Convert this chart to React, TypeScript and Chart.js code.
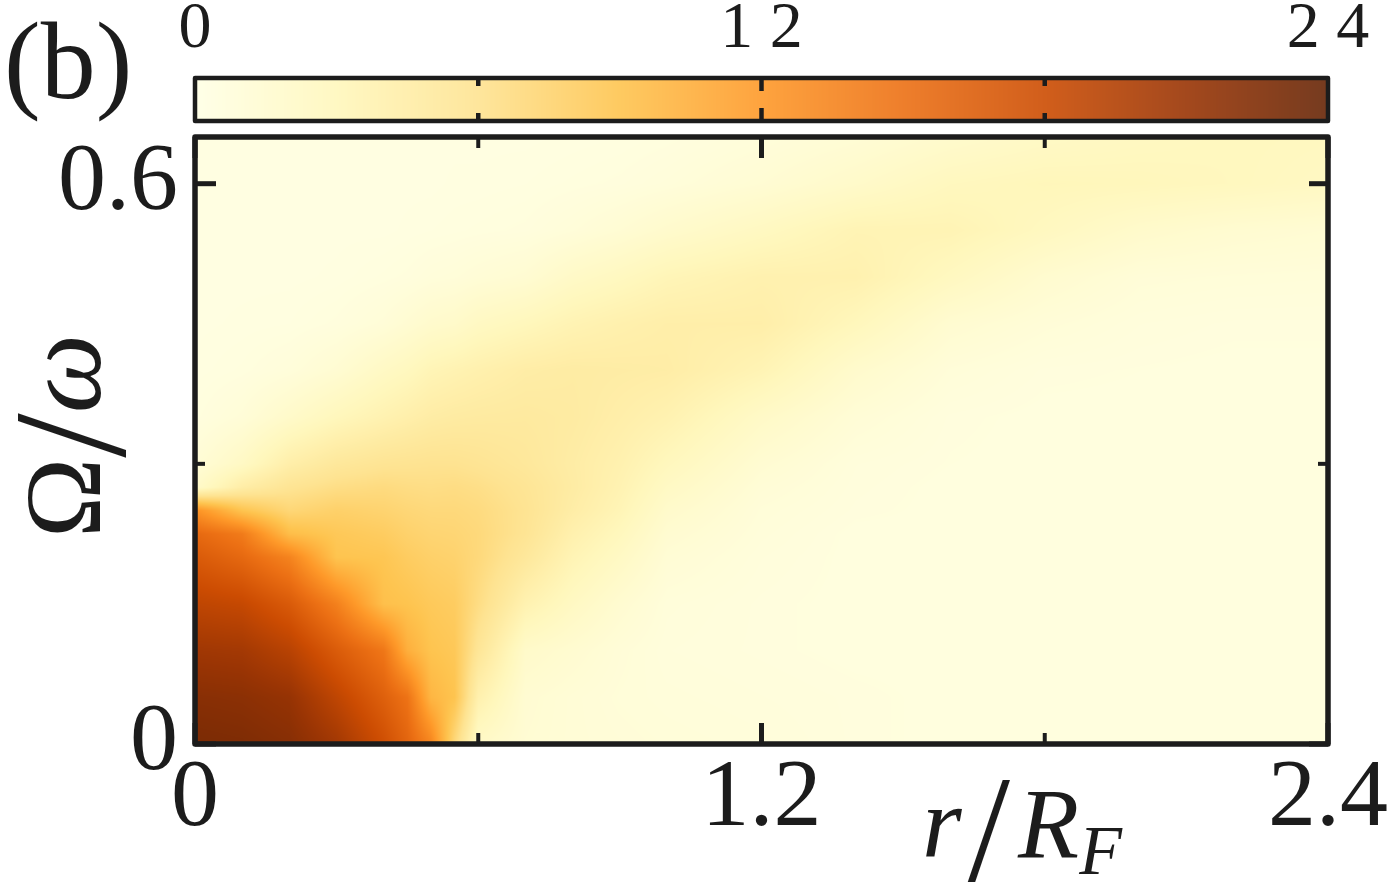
import React, { useEffect, useRef } from 'react';
import { Chart, registerables } from 'chart.js';

Chart.register(...registerables);

// ---- grid nodes (r/R_F along x, Omega/omega along y) ----
const rValues = [0, 0.1, 0.2, 0.3, 0.4, 0.45, 0.5, 0.55, 0.6, 0.7, 0.8, 0.9, 1.0, 1.2, 1.4, 1.6, 1.8, 2.0, 2.2, 2.4];
const omegaValues = [0, 0.05, 0.1, 0.15, 0.2, 0.225, 0.25, 0.275, 0.3, 0.35, 0.4, 0.45, 0.5, 0.55, 0.6, 0.65];

// ---- intensity, one row per Omega/omega value ----
const row_0000 = [22.8, 22.6, 22.1, 20.5, 17.8, 16.0, 13.5, 7.0, 2.2, 1.3, 1.1, 1.0, 0.9, 0.8, 0.6, 0.5, 0.5, 0.5, 0.5, 0.5];
const row_0050 = [22.0, 21.8, 21.2, 18.8, 16.3, 14.8, 10.0, 9.0, 4.0, 1.4, 1.1, 0.9, 0.8, 0.7, 0.6, 0.5, 0.5, 0.5, 0.5, 0.5];
const row_0100 = [20.6, 20.4, 19.2, 16.7, 14.5, 10.5, 9.0, 8.6, 5.6, 2.0, 1.5, 1.0, 0.7, 0.6, 0.5, 0.5, 0.5, 0.5, 0.5, 0.5];
const row_0150 = [18.8, 18.4, 16.8, 13.8, 9.3, 9.0, 8.5, 8.2, 6.6, 3.8, 2.5, 1.5, 0.8, 0.6, 0.5, 0.5, 0.5, 0.5, 0.5, 0.5];
const row_0200 = [16.8, 15.6, 13.6, 9.0, 8.8, 8.2, 7.8, 7.6, 7.0, 5.3, 3.5, 2.4, 1.2, 0.7, 0.5, 0.5, 0.5, 0.5, 0.5, 0.5];
const row_0225 = [15.6, 14.2, 9.5, 8.6, 8.2, 7.7, 7.4, 7.3, 7.0, 5.8, 4.0, 2.9, 1.5, 0.8, 0.5, 0.5, 0.5, 0.5, 0.5, 0.5];
const row_0250 = [12.5, 9.0, 7.2, 7.8, 7.5, 7.2, 7.0, 7.0, 6.8, 5.9, 4.5, 3.4, 1.9, 0.9, 0.6, 0.5, 0.5, 0.5, 0.5, 0.5];
const row_0275 = [2.0, 4.5, 5.8, 6.5, 6.8, 6.6, 6.5, 6.6, 6.4, 5.7, 4.7, 3.7, 2.4, 1.1, 0.65, 0.5, 0.5, 0.5, 0.5, 0.5];
const row_0300 = [1.1, 2.4, 4.3, 5.3, 5.8, 5.9, 6.0, 6.0, 5.8, 5.3, 4.6, 3.9, 2.9, 1.4, 0.7, 0.55, 0.5, 0.5, 0.5, 0.5];
const row_0350 = [0.5, 1.0, 2.0, 3.0, 3.8, 4.2, 4.6, 4.8, 4.9, 5.0, 4.8, 4.3, 3.8, 2.2, 1.1, 0.6, 0.5, 0.5, 0.5, 0.5];
const row_0400 = [0.35, 0.5, 0.8, 1.4, 2.4, 2.8, 3.4, 3.7, 4.0, 4.5, 4.7, 4.6, 4.5, 3.5, 1.8, 0.9, 0.6, 0.55, 0.5, 0.5];
const row_0450 = [0.3, 0.35, 0.4, 0.6, 1.0, 1.4, 1.8, 2.0, 2.5, 3.0, 3.6, 4.0, 4.3, 4.3, 3.0, 1.5, 1.0, 0.7, 0.6, 0.6];
const row_0500 = [0.3, 0.3, 0.3, 0.35, 0.5, 0.6, 0.8, 0.9, 1.1, 1.4, 2.2, 2.7, 3.3, 3.9, 3.9, 2.7, 1.6, 1.0, 0.9, 0.85];
const row_0550 = [0.3, 0.3, 0.3, 0.3, 0.3, 0.35, 0.4, 0.45, 0.5, 0.6, 0.9, 1.3, 1.8, 2.6, 3.5, 3.5, 2.7, 1.9, 1.5, 1.3];
const row_0600 = [0.3, 0.3, 0.3, 0.3, 0.3, 0.3, 0.3, 0.35, 0.35, 0.4, 0.5, 0.6, 0.8, 1.3, 2.0, 2.8, 3.1, 3.0, 2.8, 2.5];
const row_0650 = [0.3, 0.3, 0.3, 0.3, 0.3, 0.3, 0.3, 0.3, 0.3, 0.3, 0.35, 0.4, 0.5, 0.8, 1.2, 1.8, 2.3, 2.6, 2.8, 2.7];

const intensityRows = [
  row_0000, row_0050, row_0100, row_0150, row_0200, row_0225, row_0250, row_0275,
  row_0300, row_0350, row_0400, row_0450, row_0500, row_0550, row_0600, row_0650,
];

// ---- ticks ----
const xTicks = [0, 1.2, 2.4];
const xTickLabels = ['0', '1.2', '2.4'];
const xMinorTicks = [0.6, 1.8];
const yTicks = [0, 0.6];
const yTickLabels = ['0', '0.6'];
const yMinorTicks = [0.3];
const cbTicks = [0, 12, 24];
const cbTickLabels = ['0', '1 2', '2 4'];
const cbInnerMajor = [12];
const cbInnerMinor = [6, 18];

const X_MIN = 0, X_MAX = 2.4, Y_MIN = 0, Y_MAX = 0.65, V_MIN = 0, V_MAX = 24;

const colormapHex = ['#ffffe5', '#fff7bc', '#fee391', '#fec44f', '#fe9929', '#ec7014', '#cc4c02', '#993404', '#662506'];

const INK = '#1c1c1c';
const SERIF = '"Liberation Serif", "Times New Roman", serif';

function hexToRgb(h: string): number[] {
  return [parseInt(h.slice(1, 3), 16), parseInt(h.slice(3, 5), 16), parseInt(h.slice(5, 7), 16)];
}
const stops = colormapHex.map(hexToRgb);

function colorFor(v: number): number[] {
  let t = (v - V_MIN) / (V_MAX - V_MIN);
  t = Math.max(0, Math.min(1, t)) * (stops.length - 1);
  const k = Math.min(Math.floor(t), stops.length - 2);
  const f = t - k;
  const a = stops[k], b = stops[k + 1];
  return [a[0] + (b[0] - a[0]) * f, a[1] + (b[1] - a[1]) * f, a[2] + (b[2] - a[2]) * f];
}

function locate(nodes: number[], v: number): [number, number] {
  const n = nodes.length;
  if (v <= nodes[0]) return [0, 0];
  if (v >= nodes[n - 1]) return [n - 2, 1];
  let i = 0;
  while (nodes[i + 1] < v) i++;
  return [i, (v - nodes[i]) / (nodes[i + 1] - nodes[i])];
}

function sample(xv: number, yv: number): number {
  const [i, tx] = locate(rValues, xv);
  const [j, ty] = locate(omegaValues, yv);
  const r0 = intensityRows[j], r1 = intensityRows[j + 1];
  const a = r0[i] * (1 - tx) + r0[i + 1] * tx;
  const b = r1[i] * (1 - tx) + r1[i + 1] * tx;
  return a * (1 - ty) + b * ty;
}

const figurePlugin = {
  id: 'figurePlugin',
  beforeDatasetsDraw(chart: any) {
    const { ctx, chartArea: a, scales } = chart;
    const xs = scales.x, ys = scales.y;
    const w = Math.round(a.right - a.left), h = Math.round(a.bottom - a.top);
    const off = document.createElement('canvas');
    off.width = w; off.height = h;
    const octx = off.getContext('2d')!;
    const img = octx.createImageData(w, h);
    const xv = new Array(w);
    for (let i = 0; i < w; i++) xv[i] = xs.getValueForPixel(a.left + i + 0.5);
    for (let j = 0; j < h; j++) {
      const yv = ys.getValueForPixel(a.top + j + 0.5);
      for (let i = 0; i < w; i++) {
        const c = colorFor(sample(xv[i], yv));
        const p = (j * w + i) * 4;
        img.data[p] = c[0]; img.data[p + 1] = c[1]; img.data[p + 2] = c[2]; img.data[p + 3] = 255;
      }
    }
    octx.putImageData(img, 0, 0);
    ctx.save();
    ctx.drawImage(off, a.left, a.top);
    ctx.restore();
  },
  afterDraw(chart: any) {
    const { ctx, chartArea: a, scales } = chart;
    const xs = scales.x, ys = scales.y, cb = scales.cb;
    ctx.save();
    ctx.strokeStyle = INK;
    ctx.fillStyle = INK;
    ctx.lineCap = 'butt';

    const tick = (x1: number, y1: number, x2: number, y2: number, lw: number) => {
      ctx.lineWidth = lw; ctx.beginPath(); ctx.moveTo(x1, y1); ctx.lineTo(x2, y2); ctx.stroke();
    };
    xTicks.forEach((v) => {
      const px = xs.getPixelForValue(v);
      tick(px, a.bottom, px, a.bottom - 21, 5);
      tick(px, a.top, px, a.top + 21, 5);
    });
    xMinorTicks.forEach((v) => {
      const px = xs.getPixelForValue(v);
      tick(px, a.bottom, px, a.bottom - 11, 4);
      tick(px, a.top, px, a.top + 11, 4);
    });
    yTicks.forEach((v) => {
      const py = ys.getPixelForValue(v);
      tick(a.left, py, a.left + 21, py, 5);
      tick(a.right, py, a.right - 19, py, 5);
    });
    yMinorTicks.forEach((v) => {
      const py = ys.getPixelForValue(v);
      tick(a.left, py, a.left + 10, py, 4);
      tick(a.right, py, a.right - 10, py, 4);
    });

    // frame
    ctx.lineWidth = 5.5;
    ctx.lineJoin = 'round';
    ctx.strokeRect(a.left, a.top, a.right - a.left, a.bottom - a.top);

    // colour bar
    const c0 = cb.getPixelForValue(V_MIN), c1 = cb.getPixelForValue(V_MAX);
    const top = 78, bot = 121;
    for (let px = Math.floor(c0); px < Math.ceil(c1); px++) {
      const v = cb.getValueForPixel(px + 0.5);
      const c = colorFor(v);
      const m = 0.1;
      ctx.fillStyle = `rgb(${Math.round(c[0] * (1 - m) + 255 * m)},${Math.round(c[1] * (1 - m) + 255 * m)},${Math.round(c[2] * (1 - m) + 255 * m)})`;
      ctx.fillRect(px, top, 1, bot - top);
    }
    ctx.strokeStyle = INK;
    cbInnerMajor.forEach((v) => {
      const px = cb.getPixelForValue(v);
      tick(px, top, px, top + 13, 4.5);
      tick(px, bot, px, bot - 13, 4.5);
    });
    cbInnerMinor.forEach((v) => {
      const px = cb.getPixelForValue(v);
      tick(px, top, px, top + 8, 4.5);
      tick(px, bot, px, bot - 8, 4.5);
    });
    ctx.lineWidth = 4.5;
    ctx.lineJoin = 'round';
    ctx.strokeRect(c0, top, c1 - c0, bot - top);

    // panel label
    ctx.fillStyle = INK;
    ctx.textBaseline = 'alphabetic';
    ctx.textAlign = 'left';
    ctx.font = `110px ${SERIF}`;
    ctx.fillText('(b)', 4, 98);

    // x-axis title  r/R_F
    const parts = [
      { t: 'r', font: `italic 102px ${SERIF}`, dy: 0, gap: 6 },
      { t: '/', font: `152px ${SERIF}`, dy: 24, gap: 8 },
      { t: 'R', font: `italic 100px ${SERIF}`, dy: 0, gap: 0 },
      { t: 'F', font: `italic 70px ${SERIF}`, dy: 17, gap: 0 },
    ];
    let total = 0;
    const widths = parts.map((p) => { ctx.font = p.font; const wv = ctx.measureText(p.t).width + p.gap; total += wv; return wv; });
    let xx = 1022 - total / 2;
    const base = 857;
    parts.forEach((p, k) => {
      ctx.font = p.font;
      ctx.fillText(p.t, xx, base + p.dy);
      xx += widths[k];
    });

    // y-axis title  Omega/omega (rotated)
    const yparts = [
      { t: 'Ω', font: `108px ${SERIF}`, dy: 0 },
      { t: '/', font: `160px ${SERIF}`, dy: 24 },
      { t: 'ω', font: `italic 112px ${SERIF}`, dy: 0 },
    ];
    let ytotal = 0;
    const ywidths = yparts.map((p) => { ctx.font = p.font; const wv = ctx.measureText(p.t).width; ytotal += wv; return wv; });
    ctx.translate(100, 436 + ytotal / 2);
    ctx.rotate(-Math.PI / 2);
    let yy = 0;
    yparts.forEach((p, k) => {
      ctx.font = p.font;
      ctx.fillText(p.t, yy, p.dy);
      yy += ywidths[k];
    });
    ctx.restore();
  },
};

export default function App() {
  const canvasRef = useRef<HTMLCanvasElement | null>(null);

  useEffect(() => {
    const canvas = canvasRef.current;
    if (!canvas) return;
    const gridPoints: { x: number; y: number }[] = [];
    omegaValues.forEach((yv) => rValues.forEach((xv) => gridPoints.push({ x: xv, y: yv })));

    const tickFont = { family: SERIF, size: 96, lineHeight: 1 };
    const chart = new Chart(canvas, {
      type: 'scatter',
      data: {
        datasets: [
          { label: 'grid', data: gridPoints, pointRadius: 0, pointHoverRadius: 0, showLine: false },
        ],
      },
      options: {
        animation: false,
        responsive: false,
        devicePixelRatio: 1,
        layout: { padding: { left: 0, right: 71, top: 0, bottom: 0 } },
        plugins: { legend: { display: false }, tooltip: { enabled: false }, title: { display: false } },
        events: [],
        scales: {
          x: {
            type: 'linear', position: 'bottom', min: X_MIN, max: X_MAX,
            grid: { display: false, drawTicks: false }, border: { display: false },
            afterBuildTicks: (s: any) => { s.ticks = xTicks.map((v) => ({ value: v })); },
            afterFit: (s: any) => { s.height = 143; s.paddingLeft = 0; s.paddingRight = 0; },
            ticks: {
              font: tickFont, color: INK, padding: 8, maxRotation: 0, autoSkip: false,
              callback: (_v: any, i: number) => xTickLabels[i],
            },
          },
          y: {
            type: 'linear', position: 'left', min: Y_MIN, max: Y_MAX,
            grid: { display: false, drawTicks: false }, border: { display: false },
            afterBuildTicks: (s: any) => { s.ticks = yTicks.map((v) => ({ value: v })); },
            afterFit: (s: any) => { s.width = 195; s.paddingTop = 0; s.paddingBottom = 0; },
            ticks: {
              font: tickFont, color: INK, padding: 17, autoSkip: false,
              callback: (_v: any, i: number) => yTickLabels[i],
            },
          },
          cb: {
            type: 'linear', axis: 'x', position: 'top', min: V_MIN, max: V_MAX,
            grid: { display: false, drawTicks: false }, border: { display: false },
            afterBuildTicks: (s: any) => { s.ticks = cbTicks.map((v) => ({ value: v })); },
            afterFit: (s: any) => { s.height = 137; s.paddingLeft = 0; s.paddingRight = 0; },
            ticks: {
              font: { family: SERIF, size: 66, lineHeight: 1 }, color: INK, padding: 74, maxRotation: 0, autoSkip: false,
              callback: (_v: any, i: number) => cbTickLabels[i],
            },
          },
        },
      } as any,
      plugins: [figurePlugin],
    });
    return () => chart.destroy();
  }, []);

  return (
    <div style={{ position: 'absolute', left: 0, top: 0, width: 1399, height: 887, background: '#ffffff' }}>
      <canvas ref={canvasRef} width={1399} height={887} style={{ display: 'block', width: 1399, height: 887 }} />
    </div>
  );
}
